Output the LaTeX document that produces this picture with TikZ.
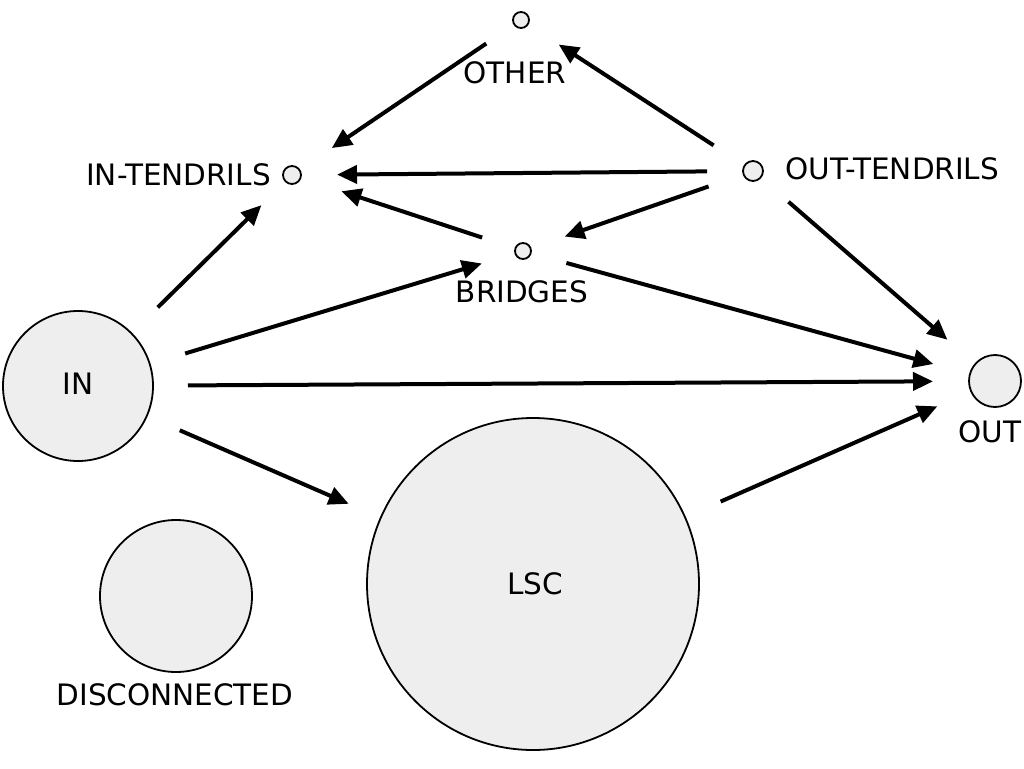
\documentclass[tikz,border=0pt]{standalone}
\usepackage{fontspec}
\setmainfont{DejaVu Sans}
\usetikzlibrary{arrows.meta}
\definecolor{vfill}{HTML}{EEEEEE}
\begin{document}
\begin{tikzpicture}[x=1pt,y=-1pt,
 vert/.style={circle,draw=black,fill=vfill,line width=1.8pt,inner sep=0pt,outer sep=0pt},
 lbl/.style={font=\fontsize{29.5}{35}\selectfont,inner sep=0pt},
 arr/.style={line width=4pt,-{Triangle[length=20pt,width=18pt]}}]
\useasboundingbox (0,0) rectangle (1024,768);
% vertices
\node[vert,minimum size=16pt] (other) at (521,20) {};
\node[vert,minimum size=18pt] (intend) at (292,175) {};
\node[vert,minimum size=20pt] (outtend) at (753,171) {};
\node[vert,minimum size=16pt] (bridges) at (523,251) {};
\node[vert,minimum size=150pt] (in) at (78,386) {};
\node[vert,minimum size=52pt] (out) at (995,381) {};
\node[vert,minimum size=152pt] (disc) at (176,596) {};
\node[vert,minimum size=332pt] (lsc) at (533,584) {};
% labels
\node[lbl] (lother) at (515,73) {OTHER};
\node[lbl,anchor=east] (lintend) at (271,175) {IN-TENDRILS};
\node[lbl,anchor=west] (louttend) at (785,169) {OUT-TENDRILS};
\node[lbl] (lbridges) at (522,292) {BRIDGES};
\node[lbl] (lout) at (990,432) {OUT};
\node[lbl] (lin) at (78,384) {IN};
\node[lbl] (llsc) at (535,584) {LSC};
\node[lbl] (ldisc) at (175,695) {DISCONNECTED};
% connectors
\draw[arr,shorten <=34pt,shorten >=39pt] (other) -- (intend);
\draw[arr,shorten <=37pt,shorten >=37pt] (outtend) -- (other);
\draw[arr,shorten <=36pt,shorten >=36pt] (outtend) -- (intend);
\draw[arr,shorten <=35pt,shorten >=43pt] (bridges) -- (intend);
\draw[arr,shorten <=37pt,shorten >=36pt] (outtend) -- (bridges);
\draw[arr,shorten <=37pt,shorten >=35pt] (in) -- (bridges);
\draw[arr,shorten <=37pt,shorten >=38pt] (bridges) -- (out);
\draw[arr,shorten <=35pt,shorten >=36pt] (in) -- (out);
\draw[arr,shorten <=39pt,shorten >=37pt] (lsc) -- (out);
\draw[arr,shorten <=36pt,shorten >=35pt] (in) -- (lsc);
\draw[arr,shorten <=37pt,shorten >=34pt] (in) -- (intend);
\draw[arr,shorten <=37pt,shorten >=37pt] (outtend) -- (out);
\end{tikzpicture}
\end{document}
